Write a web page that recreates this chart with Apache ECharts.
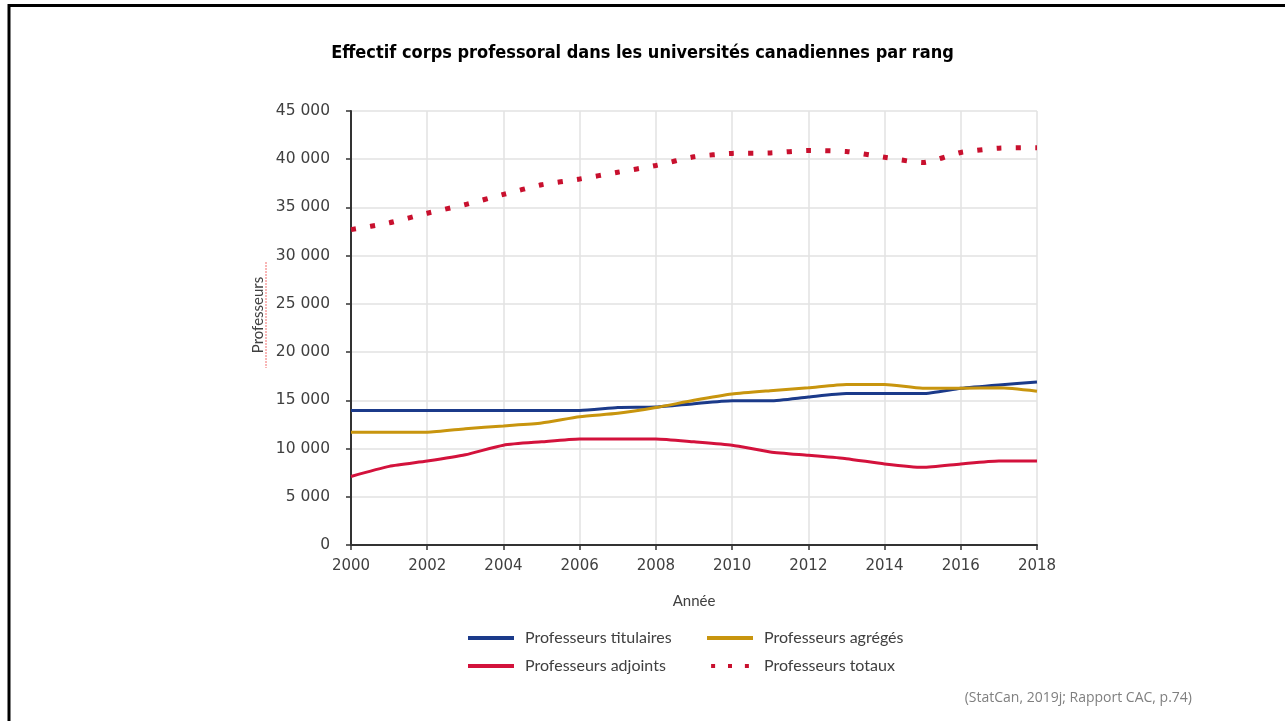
<!DOCTYPE html>
<html>
<head>
<meta charset="utf-8">
<script src="https://cdn.jsdelivr.net/npm/echarts@6/dist/echarts.min.js"></script>
<style>
html,body{margin:0;padding:0;background:#fff;}
#chart{width:1285px;height:721px;}
</style>
</head>
<body>
<div id="chart"></div>
<script>
const years = [2000,2001,2002,2003,2004,2005,2006,2007,2008,2009,2010,2011,2012,2013,2014,2015,2016,2017,2018];
const titulaires = [13950,13950,13950,13950,13950,13950,13950,14250,14300,14650,14950,14950,15350,15700,15700,15700,16250,16600,16900];
const agreges    = [11700,11700,11700,12050,12350,12650,13300,13650,14250,15000,15650,16000,16300,16650,16650,16250,16250,16300,15950];
const adjoints   = [7100,8150,8700,9350,10350,10700,11000,11000,11000,10700,10350,9650,9300,8950,8400,8050,8400,8700,8700];
const totaux     = [32700,33400,34400,35300,36350,37350,37950,38650,39350,40250,40600,40650,40900,40800,40200,39650,40700,41150,41200];
const seriesNames = ['Professeurs titulaires','Professeurs agrégés','Professeurs adjoints','Professeurs totaux'];
const yTicks = {min:0, max:45000, interval:5000};
const xTicks = {min:2000, max:2018, interval:2};

const pairs = arr => years.map((y,i)=>[y, arr[i]]);
const fmt = v => String(v).replace(/\B(?=(\d{3})+(?!\d))/g, ' ');

const solidIcon = 'path://M0,0h46v4h-46z';
const dotIcon = 'path://M0,0h4.5v4.5h-4.5zM19,0h4.5v4.5h-4.5zM38,0h4.5v4.5h-4.5z';

const chart = echarts.init(document.getElementById('chart'));
const labelFont = 'DejaVu Sans';
const legendCommon = {orient:'vertical', top:630, padding:0, itemWidth:46, itemHeight:4, itemGap:12,
  textStyle:{fontFamily:'Lato', fontSize:16, color:'#404040', padding:[0,0,0,6], lineHeight:16}};
chart.setOption({
  backgroundColor:'#ffffff',
  animation:false,
  title:{
    text:'Effectif corps professoral dans les universités canadiennes par rang',
    left:'center', top:39,
    textStyle:{fontFamily:'DejaVu Sans Condensed', fontWeight:'bold', fontSize:18, color:'#000'}
  },
  grid:{left:351, right:248, top:111, bottom:176, containLabel:false},
  legend:[
    Object.assign({left:468, data:[{name:seriesNames[0], icon:solidIcon}, {name:seriesNames[2], icon:solidIcon}]}, legendCommon),
    Object.assign({left:707, data:[{name:seriesNames[1], icon:solidIcon}, {name:seriesNames[3], icon:dotIcon}]}, legendCommon)
  ],
  xAxis:{
    type:'value', min:xTicks.min, max:xTicks.max, interval:xTicks.interval,
    name:'Année', nameLocation:'middle', nameGap:49,
    nameTextStyle:{fontFamily:'Lato', fontSize:15, color:'#404040'},
    axisLine:{show:true, lineStyle:{color:'#333', width:2}},
    axisTick:{show:true, length:5, lineStyle:{color:'#333', width:1.5}},
    axisLabel:{formatter:v=>String(v), fontFamily:labelFont, fontSize:15, color:'#404040', margin:14},
    splitLine:{show:true, lineStyle:{color:'#e2e2e2', width:1.5}}
  },
  yAxis:{
    type:'value', min:yTicks.min, max:yTicks.max, interval:yTicks.interval,
    axisLine:{show:true, lineStyle:{color:'#333', width:2}},
    axisTick:{show:true, length:5, lineStyle:{color:'#333', width:1.5}},
    axisLabel:{formatter:fmt, fontFamily:labelFont, fontSize:15.5, color:'#404040', margin:21},
    splitLine:{show:true, lineStyle:{color:'#e2e2e2', width:1.5}}
  },
  graphic:[
    {type:'line', shape:{x1:8, y1:5.5, x2:1285, y2:5.5}, style:{stroke:'#000', lineWidth:3}, silent:true},
    {type:'line', shape:{x1:9, y1:4, x2:9, y2:721}, style:{stroke:'#000', lineWidth:3}, silent:true},
    {type:'text', x:258, y:315, rotation:Math.PI/2,
     style:{text:'Professeurs', fontFamily:'Lato', fontSize:15, fill:'#404040', textAlign:'center', textVerticalAlign:'middle'}},
    {type:'line', shape:{x1:266, y1:262, x2:266, y2:368}, style:{stroke:'#f26d6d', lineWidth:1, lineDash:[2,1]}, silent:true},
    {type:'text', right:93, top:691,
     style:{text:'(StatCan, 2019j; Rapport CAC, p.74)', fontFamily:'Open Sans', fontSize:14, fill:'#7f7f7f'}}
  ],
  series:[
    {name:seriesNames[0], type:'line', data:pairs(titulaires), symbol:'none', smooth:0.2,
     lineStyle:{color:'#1b3a8a', width:3}, itemStyle:{color:'#1b3a8a'}, z:3},
    {name:seriesNames[1], type:'line', data:pairs(agreges), symbol:'none', smooth:0.2,
     lineStyle:{color:'#c8950e', width:3}, itemStyle:{color:'#c8950e'}, z:4},
    {name:seriesNames[2], type:'line', data:pairs(adjoints), symbol:'none', smooth:0.2,
     lineStyle:{color:'#d3123c', width:3}, itemStyle:{color:'#d3123c'}, z:3},
    {name:seriesNames[3], type:'line', data:pairs(totaux), symbol:'none', smooth:0.2,
     lineStyle:{color:'#c8102e', width:5, type:[5,14.3], cap:'butt'}, itemStyle:{color:'#c8102e'}, z:5}
  ]
});
</script>
</body>
</html>
